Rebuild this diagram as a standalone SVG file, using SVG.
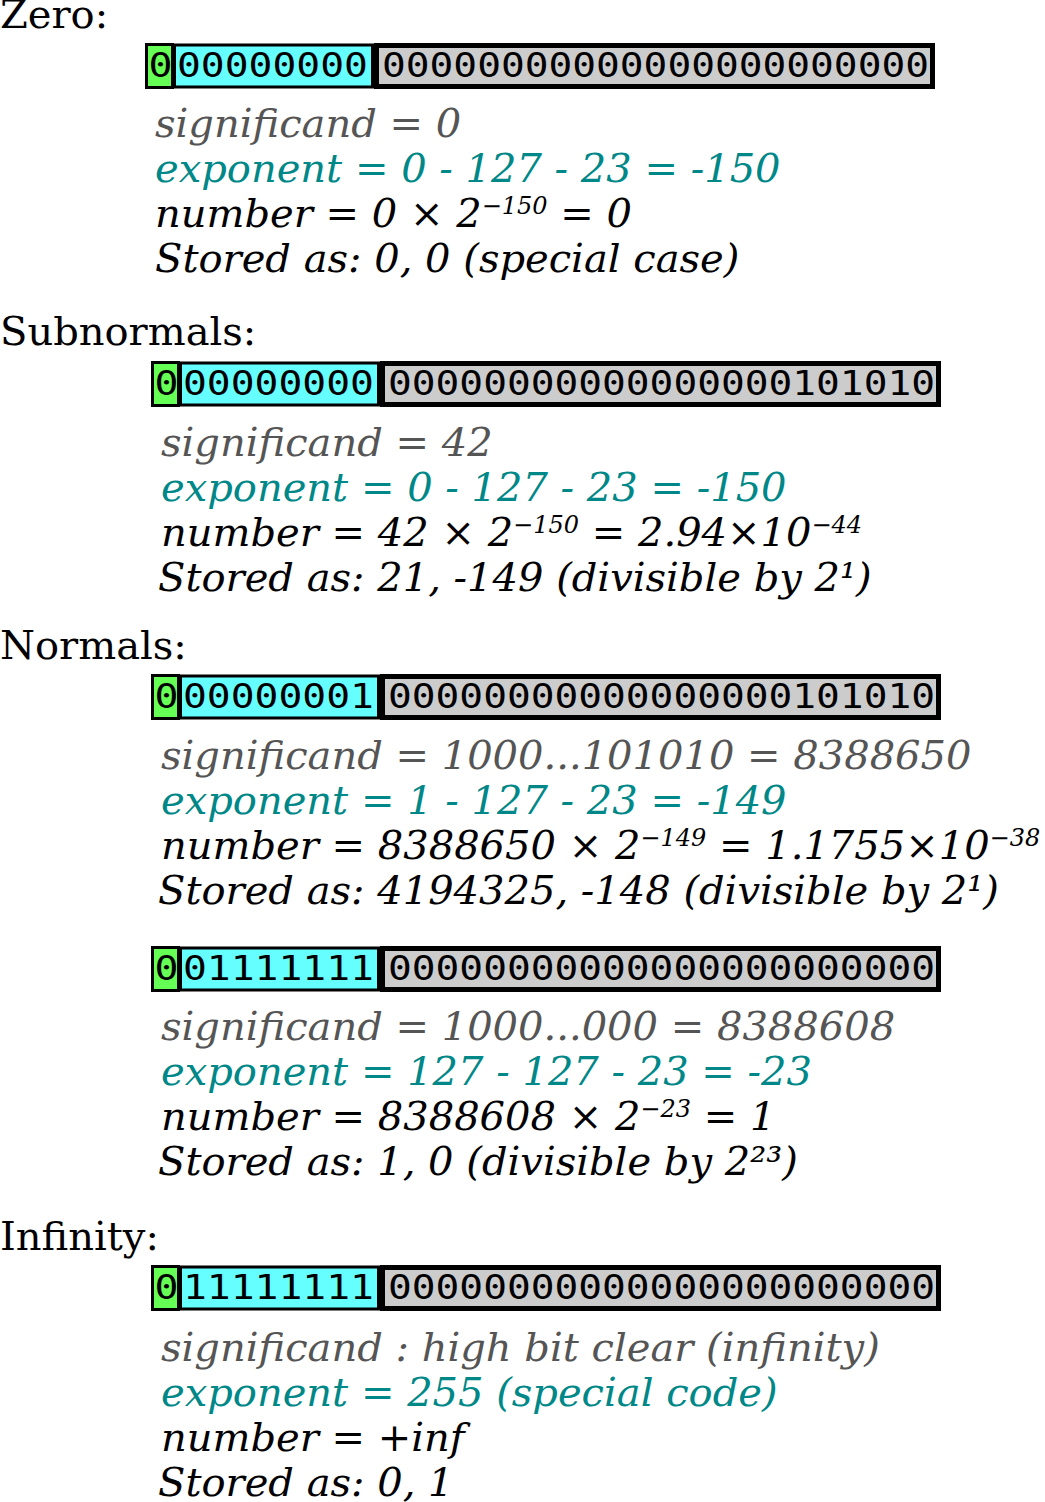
<svg xmlns="http://www.w3.org/2000/svg" width="1045" height="1502" viewBox="0 0 1045 1502">
<style>
.lbl{font-family:"DejaVu Serif",serif;font-size:40px;fill:#000}
.t{font-family:"DejaVu Serif",serif;font-style:italic;font-size:40px}
.sig{fill:#555555}
.exp{fill:#008888}
.num{fill:#000}
.sup{font-size:24px}
.bits{font-family:"DejaVu Sans Mono",monospace;font-size:34px;fill:#000}
.sb{fill:#66ff55;stroke:#000;stroke-width:3}
.eb{fill:#66ffff;stroke:#000;stroke-width:3}
.mb{fill:#cccccc;stroke:#000;stroke-width:5}
</style>
<rect width="1045" height="1502" fill="#ffffff"/>

<g id="zero">
<text class="lbl" x="0" y="28">Zero:</text>
<g transform="translate(145,43)">
<rect class="sb" x="1.5" y="1.5" width="26" height="43"/>
<rect class="eb" x="29.5" y="2" width="198" height="42"/>
<rect class="mb" x="231.5" y="2.5" width="556" height="41"/>
<text class="bits" x="3.5" y="34" textLength="24" lengthAdjust="spacingAndGlyphs">0</text>
<text class="bits" x="32" y="34" textLength="191" lengthAdjust="spacingAndGlyphs">00000000</text>
<text class="bits" x="237" y="34" textLength="547" lengthAdjust="spacingAndGlyphs">00000000000000000000000</text>
</g>
<text class="t sig" x="155" y="137">significand = 0</text>
<text class="t exp" x="155" y="182">exponent = 0 - 127 - 23 = -150</text>
<text class="t num" x="155" y="227">number = 0 × 2<tspan class="sup" dy="-13">−150</tspan><tspan dy="13"> = 0</tspan></text>
<text class="t num" x="155" y="272">Stored as: 0, 0 (special case)</text>
</g>

<g id="subnormals">
<text class="lbl" x="0" y="345">Subnormals:</text>
<g transform="translate(151,361)">
<rect class="sb" x="1.5" y="1.5" width="26" height="43"/>
<rect class="eb" x="29.5" y="2" width="198" height="42"/>
<rect class="mb" x="231.5" y="2.5" width="556" height="41"/>
<text class="bits" x="3.5" y="34" textLength="24" lengthAdjust="spacingAndGlyphs">0</text>
<text class="bits" x="32" y="34" textLength="191" lengthAdjust="spacingAndGlyphs">00000000</text>
<text class="bits" x="237" y="34" textLength="547" lengthAdjust="spacingAndGlyphs">00000000000000000101010</text>
</g>
<text class="t sig" x="161" y="456">significand = 42</text>
<text class="t exp" x="161" y="501">exponent = 0 - 127 - 23 = -150</text>
<text class="t num" x="161" y="546">number = 42 × 2<tspan class="sup" dy="-13">−150</tspan><tspan dy="13"> = 2.94×10</tspan><tspan class="sup" dy="-13">−44</tspan></text>
<text class="t num" x="158" y="591">Stored as: 21, -149 (divisible by 2¹)</text>
</g>

<g id="normals">
<text class="lbl" x="0" y="659">Normals:</text>
<g transform="translate(151,674)">
<rect class="sb" x="1.5" y="1.5" width="26" height="43"/>
<rect class="eb" x="29.5" y="2" width="198" height="42"/>
<rect class="mb" x="231.5" y="2.5" width="556" height="41"/>
<text class="bits" x="3.5" y="34" textLength="24" lengthAdjust="spacingAndGlyphs">0</text>
<text class="bits" x="32" y="34" textLength="191" lengthAdjust="spacingAndGlyphs">00000001</text>
<text class="bits" x="237" y="34" textLength="547" lengthAdjust="spacingAndGlyphs">00000000000000000101010</text>
</g>
<text class="t sig" x="161" y="769">significand = 1000...101010 = 8388650</text>
<text class="t exp" x="161" y="814">exponent = 1 - 127 - 23 = -149</text>
<text class="t num" x="161" y="859">number = 8388650 × 2<tspan class="sup" dy="-13">−149</tspan><tspan dy="13"> = 1.1755×10</tspan><tspan class="sup" dy="-13">−38</tspan></text>
<text class="t num" x="158" y="904">Stored as: 4194325, -148 (divisible by 2¹)</text>
</g>

<g id="normal-one">
<g transform="translate(151,946)">
<rect class="sb" x="1.5" y="1.5" width="26" height="43"/>
<rect class="eb" x="29.5" y="2" width="198" height="42"/>
<rect class="mb" x="231.5" y="2.5" width="556" height="41"/>
<text class="bits" x="3.5" y="34" textLength="24" lengthAdjust="spacingAndGlyphs">0</text>
<text class="bits" x="32" y="34" textLength="191" lengthAdjust="spacingAndGlyphs">01111111</text>
<text class="bits" x="237" y="34" textLength="547" lengthAdjust="spacingAndGlyphs">00000000000000000000000</text>
</g>
<text class="t sig" x="161" y="1040">significand = 1000...000 = 8388608</text>
<text class="t exp" x="161" y="1085">exponent = 127 - 127 - 23 = -23</text>
<text class="t num" x="161" y="1130">number = 8388608 × 2<tspan class="sup" dy="-13">−23</tspan><tspan dy="13"> = 1</tspan></text>
<text class="t num" x="158" y="1175">Stored as: 1, 0 (divisible by 2²³)</text>
</g>

<g id="infinity">
<text class="lbl" x="0" y="1250">Infinity:</text>
<g transform="translate(151,1265)">
<rect class="sb" x="1.5" y="1.5" width="26" height="43"/>
<rect class="eb" x="29.5" y="2" width="198" height="42"/>
<rect class="mb" x="231.5" y="2.5" width="556" height="41"/>
<text class="bits" x="3.5" y="34" textLength="24" lengthAdjust="spacingAndGlyphs">0</text>
<text class="bits" x="32" y="34" textLength="191" lengthAdjust="spacingAndGlyphs">11111111</text>
<text class="bits" x="237" y="34" textLength="547" lengthAdjust="spacingAndGlyphs">00000000000000000000000</text>
</g>
<text class="t sig" x="161" y="1361">significand : high bit clear (infinity)</text>
<text class="t exp" x="161" y="1406">exponent = 255 (special code)</text>
<text class="t num" x="161" y="1451">number = +inf</text>
<text class="t num" x="158" y="1496">Stored as: 0, 1</text>
</g>
</svg>
